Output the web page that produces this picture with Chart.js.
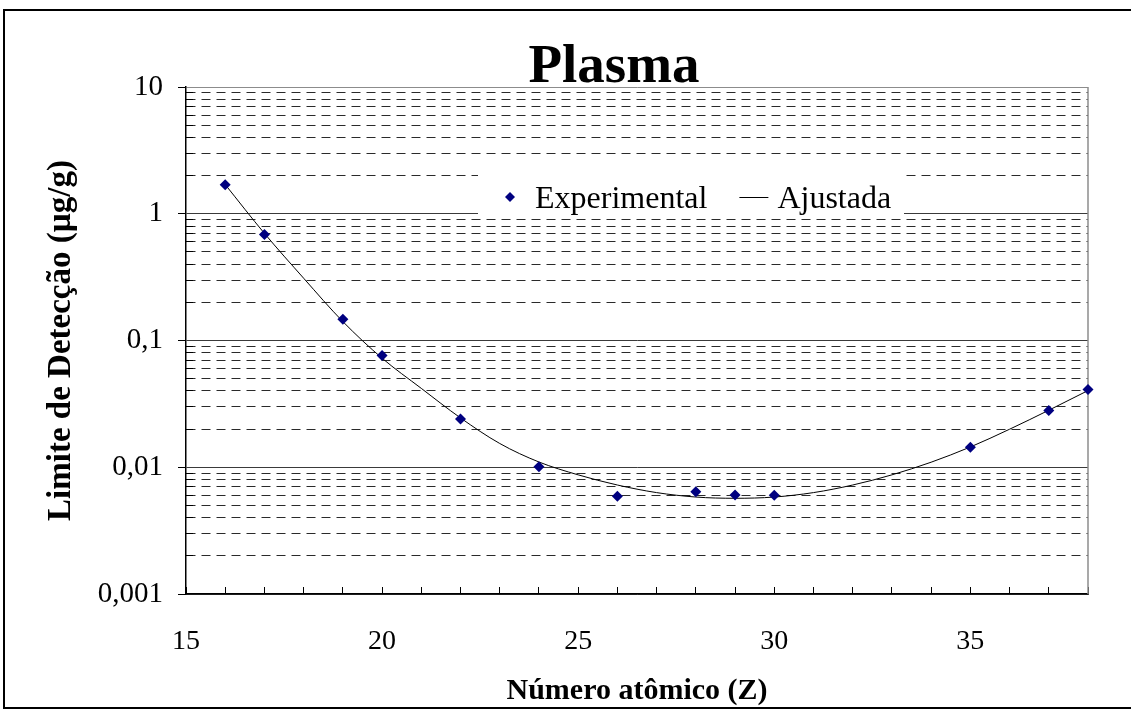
<!DOCTYPE html>
<html>
<head>
<meta charset="utf-8">
<script src="https://cdn.jsdelivr.net/npm/chart.js@4.4.1/dist/chart.umd.min.js"></script>
<style>
    html, body { margin: 0; padding: 0; background: #fff; overflow: hidden; }
    #wrap { position: relative; width: 1131px; height: 711px; }
    #frame { position: absolute; left: 3px; top: 9px; width: 1140px; height: 696px; border: 2px solid #000; pointer-events: none; }
</style>
</head>
<body>
<div id="wrap">
    <canvas id="plasmaChart"></canvas>
    <div id="frame"></div>
</div>
<script>
// Limite de detecção x número atômico (Plasma)

const chartTitle = 'Plasma';

// Experimental points
const atomicNumbers = [16, 17, 19, 20, 22, 24, 26, 28, 29, 30, 35, 37, 38];
const experimental = [1.69, 0.687, 0.147, 0.0762, 0.0240, 0.0101, 0.0059, 0.0064, 0.00605, 0.0060, 0.0144, 0.0281, 0.0411];

// Fitted curve
const fitZ = [16, 17, 18, 19, 20, 21, 22, 23, 24, 25, 26, 27, 28, 29, 30, 31, 32, 33, 34, 35, 36, 37, 38];
const fitted = [1.70, 0.70, 0.31, 0.141, 0.0725, 0.0419, 0.0245, 0.0154, 0.0110, 0.00871, 0.00724, 0.00631,
    0.00582, 0.00569, 0.00582, 0.00631, 0.00724, 0.00871, 0.01096, 0.01445, 0.01995, 0.02818, 0.04027];

// Axis ticks
const yDecades = [0.001, 0.01, 0.1, 1, 10];
const yDecadeLabels = ['0,001', '0,01', '0,1', '1', '10'];
const xTickValues = [15, 20, 25, 30, 35];
const xTickLabels = ['15', '20', '25', '30', '35'];

const serif = '"Liberation Serif", "Times New Roman", serif';

function isDecade(v) {
    return yDecades.some(d => Math.abs(v / d - 1) < 1e-6);
}

function logTicks(scale) {
    const ticks = [];
    for (let i = 0; i < yDecades.length - 1; i++) {
        for (let k = 1; k <= 9; k++) ticks.push({ value: yDecades[i] * k });
    }
    ticks.push({ value: yDecades[yDecades.length - 1] });
    scale.ticks = ticks;
}

// Title drawn over the plot
const titlePlugin = {
    id: 'plotTitle',
    afterDraw(chart) {
        const ctx = chart.ctx;
        ctx.save();
        ctx.font = 'bold 55px ' + serif;
        ctx.fillStyle = '#000';
        ctx.textAlign = 'center';
        ctx.textBaseline = 'alphabetic';
        ctx.fillText(chartTitle, 614, 82);
        ctx.restore();
    }
};

// Gray right edge of the plot box
const boxPlugin = {
    id: 'plotBox',
    beforeDatasetsDraw(chart) {
        const { ctx, chartArea } = chart;
        ctx.save();
        ctx.strokeStyle = '#8c8c8c';
        ctx.lineWidth = 1.5;
        ctx.beginPath();
        ctx.moveTo(chartArea.right, chartArea.top);
        ctx.lineTo(chartArea.right, chartArea.bottom);
        ctx.stroke();
        ctx.restore();
    }
};

// Legend sitting inside the plot, on a white box
const legendPlugin = {
    id: 'insideLegend',
    afterDraw(chart) {
        const ctx = chart.ctx;
        ctx.save();
        ctx.fillStyle = '#fff';
        ctx.fillRect(478, 160, 426, 57);
        ctx.font = '32px ' + serif;
        ctx.textBaseline = 'alphabetic';
        const midY = 197;
        let x = 505;
        chart.data.datasets.forEach(ds => {
            if (ds.showLine) {
                ctx.strokeStyle = ds.borderColor;
                ctx.lineWidth = 1;
                ctx.beginPath();
                ctx.moveTo(x, midY + 0.5);
                ctx.lineTo(x + 29, midY + 0.5);
                ctx.stroke();
                x += 38;
            } else {
                ctx.fillStyle = ds.backgroundColor;
                ctx.beginPath();
                ctx.moveTo(x + 5, midY - 5);
                ctx.lineTo(x + 10, midY);
                ctx.lineTo(x + 5, midY + 5);
                ctx.lineTo(x, midY);
                ctx.closePath();
                ctx.fill();
                x += 30;
            }
            ctx.fillStyle = '#000';
            ctx.fillText(ds.label, x, 208);
            x += ctx.measureText(ds.label).width + 32;
        });
        ctx.restore();
    }
};

const ctx = document.getElementById('plasmaChart').getContext('2d');

new Chart(ctx, {
    type: 'scatter',
    data: {
        datasets: [{
            label: 'Experimental',
            data: atomicNumbers.map((z, i) => ({ x: z, y: experimental[i] })),
            pointStyle: 'rectRot',
            pointRadius: 5.5,
            backgroundColor: '#000080',
            borderColor: '#000080',
            borderWidth: 0,
            clip: false,
            order: 0
        }, {
            label: 'Ajustada',
            data: fitZ.map((z, i) => ({ x: z, y: fitted[i] })),
            showLine: true,
            borderColor: '#000',
            borderWidth: 1,
            pointRadius: 0,
            cubicInterpolationMode: 'monotone',
            order: 1
        }]
    },
    options: {
        responsive: true,
        maintainAspectRatio: false,
        animation: false,
        layout: { padding: { top: 87, right: 43, bottom: 0, left: 0 } },
        plugins: {
            legend: { display: false },
            title: { display: false },
            tooltip: { enabled: false }
        },
        scales: {
            x: {
                type: 'linear',
                min: 15,
                max: 38,
                afterFit: s => { s.height = 117; },
                ticks: {
                    stepSize: 1,
                    autoSkip: false,
                    maxRotation: 0,
                    padding: 38,
                    color: '#000',
                    font: { family: serif, size: 28 },
                    callback: v => {
                        const i = xTickValues.indexOf(v);
                        return i >= 0 ? xTickLabels[i] : '';
                    }
                },
                grid: {
                    drawOnChartArea: false,
                    tickLength: -7,
                    tickColor: '#000'
                },
                border: { color: '#000', width: 1.5 },
                title: {
                    display: true,
                    text: 'Número atômico (Z)',
                    color: '#000',
                    font: { family: serif, size: 30, weight: 'bold' },
                    padding: { top: 0, bottom: 2 }
                }
            },
            y: {
                type: 'logarithmic',
                position: 'left',
                weight: 1,
                min: 0.001,
                max: 10,
                afterBuildTicks: logTicks,
                afterFit: s => { s.width = 186; },
                ticks: {
                    autoSkip: false,
                    padding: 15,
                    color: '#000',
                    font: { family: serif, size: 29 },
                    callback: v => {
                        const i = yDecades.findIndex(d => Math.abs(v / d - 1) < 1e-6);
                        return i >= 0 ? yDecadeLabels[i] : '';
                    }
                },
                grid: {
                    lineWidth: 1,
                    tickLength: 8,
                    color: c => {
                        if (!c.tick) return '#333';
                        if (Math.abs(c.tick.value - 10) < 1e-6) return '#8c8c8c';
                        return isDecade(c.tick.value) ? '#3a3a3a' : '#2a2a2a';
                    },
                    tickColor: c => (c.tick && isDecade(c.tick.value)) ? '#000' : 'rgba(0,0,0,0)'
                },
                border: {
                    color: '#000',
                    width: 1.5,
                    dash: c => (c.tick && !isDecade(c.tick.value)) ? [9, 6] : []
                },
                title: {
                    display: true,
                    text: 'Limite de Detecção (µg/g)',
                    color: '#000',
                    font: { family: serif, size: 33, weight: 'bold' },
                    padding: { top: 42, bottom: 0 }
                }
            },
            yMinor: {
                type: 'logarithmic',
                position: 'left',
                weight: 0,
                min: 0.001,
                max: 10,
                afterBuildTicks: logTicks,
                afterFit: s => { s.width = 0; },
                ticks: { display: false, autoSkip: false },
                grid: {
                    drawOnChartArea: false,
                    tickLength: -7,
                    tickColor: c => (c.tick && !isDecade(c.tick.value)) ? '#000' : 'rgba(0,0,0,0)'
                },
                border: { display: false }
            }
        }
    },
    plugins: [titlePlugin, boxPlugin, legendPlugin]
});
</script>
</body>
</html>
